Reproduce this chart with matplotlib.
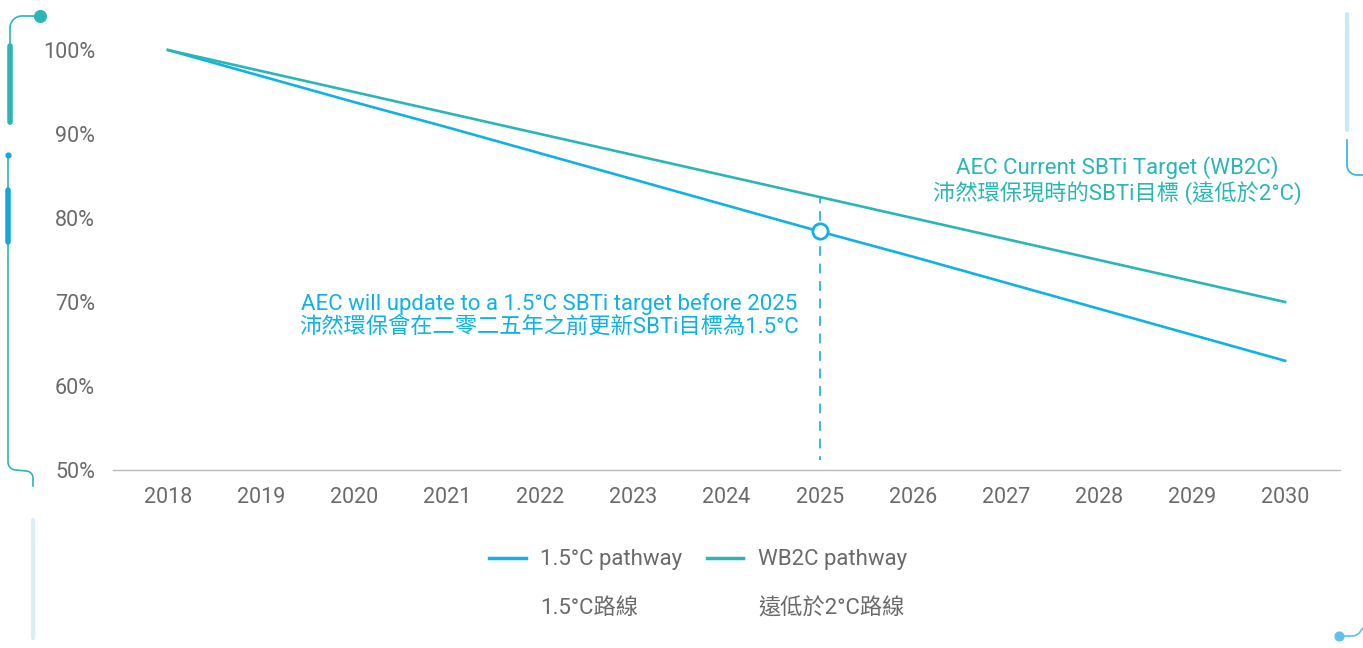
import numpy as np
import matplotlib.pyplot as plt

plt.rcParams['font.family'] = ['Roboto', 'Noto Sans CJK TC', 'DejaVu Sans']

# data
years = [2018, 2019, 2020, 2021, 2022, 2023, 2024, 2025, 2026, 2027, 2028, 2029, 2030]
pathway_15 = [100, 96.9, 93.8, 90.8, 87.7, 84.6, 81.5, 78.4, 75.4, 72.3, 69.2, 66.1, 63.0]
pathway_wb2c = [100, 97.5, 95.0, 92.5, 90.0, 87.5, 85.0, 82.5, 80.0, 77.5, 75.0, 72.5, 70.0]
y_ticks = [50, 60, 70, 80, 90, 100]
target_year = 2025
series_labels = ['1.5°C pathway', 'WB2C pathway']
series_labels_zh = ['1.5°C路線', '遠低於2°C路線']

BLUE = '#0fb2e6'
TEAL = '#2bb6b6'
GREY = '#6a6a6a'
FS = 15.5

W, H = 1363, 648
fig = plt.figure(figsize=(W / 100, H / 100), dpi=100)

# decoration layer in pixel coords
deco = fig.add_axes([0, 0, 1, 1], zorder=-1)
deco.set_xlim(0, W)
deco.set_ylim(H, 0)
deco.axis('off')


def arc(cx, cy, r, a0, a1, n=20):
    t = np.radians(np.linspace(a0, a1, n))
    return cx + r * np.cos(t), cy + r * np.sin(t)


# top-left hook
ax_, ay_ = arc(22, 28, 12, 270, 180)
deco.plot(np.r_[40, ax_, 10, 10], np.r_[16, ay_, 28, 124], color=TEAL, lw=1.2)
deco.plot([10, 10], [46, 122], color=TEAL, lw=4, solid_capstyle='round')
deco.scatter([40], [16], s=70, color=TEAL, zorder=3)

# left long line
bx, by = arc(16, 462, 8, 180, 90)
cx_, cy_ = arc(26, 478, 7, 270, 360)
deco.plot(np.r_[8, 8, bx, cx_, 33, 33], np.r_[155, 462, by, cy_, 478, 486], color=TEAL, lw=1.2)
deco.plot([8, 8], [190, 242], color='#14a9dc', lw=4, solid_capstyle='round')
deco.scatter([8], [155], s=12, color='#14a9dc', zorder=3)
deco.plot([33, 33], [520, 638], color='#d6f0f4', lw=3, solid_capstyle='round')

# right side
deco.plot([1347, 1347], [14, 130], color='#c9e8f6', lw=3, solid_capstyle='round')
rx, ry = arc(1357, 165, 10, 180, 90)
deco.plot(np.r_[1347, rx, 1363], np.r_[140, ry, 175], color='#2ab4e4', lw=1.2)
qx, qy = arc(1352, 626, 10, 90, 30)
deco.plot(np.r_[1339, qx, 1363], np.r_[636, qy, 628], color='#5fc1ea', lw=1.2)
deco.scatter([1339], [636], s=40, color='#5fc1ea', zorder=3)

# main chart
ax = fig.add_axes([113 / W, 1 - 470 / H, (1340 - 113) / W, (470 - 50) / H])
ax.plot(years, pathway_15, color=BLUE, lw=1.9, label=series_labels[0], clip_on=False)
ax.plot(years, pathway_wb2c, color=TEAL, lw=1.9, label=series_labels[1], clip_on=False)

i = years.index(target_year)
ax.plot([target_year, target_year], [51.2, pathway_wb2c[i]], color='#3ab8e6', lw=1.4,
        ls=(3, (5, 4)), zorder=1)
ax.plot([target_year], [pathway_15[i]], marker='o', ms=11, mfc='white', mec=BLUE, mew=2,
        zorder=4, clip_on=False)

ax.set_xlim(2017.41, 2030.59)
ax.set_ylim(50, 100)
ax.set_xticks(years)
ax.set_yticks(y_ticks)
ax.set_yticklabels([f'{v}%' for v in y_ticks])
for s in ['top', 'right', 'left']:
    ax.spines[s].set_visible(False)
ax.spines['bottom'].set_color('#bbbbbb')
ax.spines['bottom'].set_linewidth(1)
ax.tick_params(axis='both', length=0, labelsize=FS, labelcolor=GREY)
ax.tick_params(axis='x', pad=12)
ax.tick_params(axis='y', pad=13)
ax.set_facecolor('none')

ax.text(2028.2, 84.5, 'AEC Current SBTi Target (WB2C)\n沛然環保現時的SBTi目標 (遠低於2°C)',
        color=TEAL, fontsize=16, ha='center', va='center', linespacing=1.12)
ax.text(2022.09, 68.4, 'AEC will update to a 1.5°C SBTi target before 2025\n沛然環保會在二零二五年之前更新SBTi目標為1.5°C',
        color=BLUE, fontsize=16, ha='center', va='center', linespacing=1.12)

leg = fig.legend(loc='center', bbox_to_anchor=(698 / W, 1 - 560 / H), ncol=2, frameon=False,
                 fontsize=16, handlelength=1.65, handletextpad=0.65, columnspacing=1.1,
                 labelcolor=GREY)
for line in leg.get_lines():
    line.set_linewidth(2.5)

fig.canvas.draw()
for txt, zh in zip(leg.get_texts(), series_labels_zh):
    bb = txt.get_window_extent()
    fig.text(bb.x0 / W, 1 - 609 / H, zh, color=GREY, fontsize=16, ha='left', va='center')

fig.savefig('out.png', dpi=100)
